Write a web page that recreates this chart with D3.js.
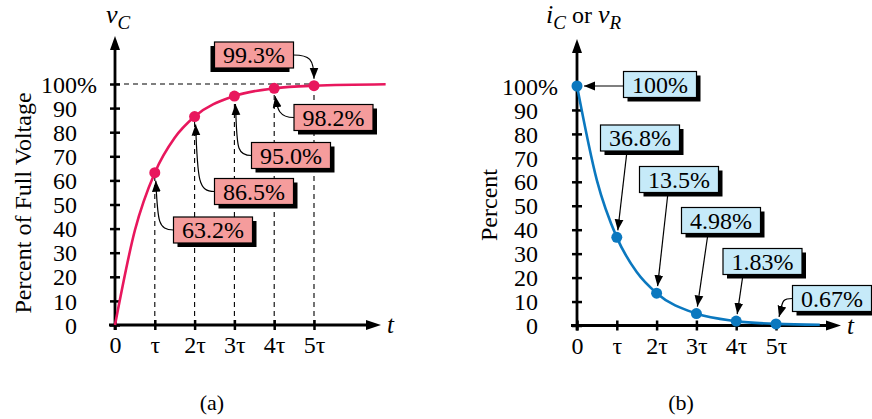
<!DOCTYPE html>
<html><head><meta charset="utf-8">
<script src="https://cdn.jsdelivr.net/npm/d3@7"></script>
<style>body{margin:0;background:#fff}svg{display:block}</style>
</head><body>
<svg id="c" width="872" height="419" font-family="Liberation Serif"></svg>
<script>
// ---- data ----
const tickTau = [0, 1, 2, 3, 4, 5];
const tickTauLabels = ["0", "τ", "2τ", "3τ", "4τ", "5τ"];
const yTicks = [0, 10, 20, 30, 40, 50, 60, 70, 80, 90, 100];
const markT = [1, 2, 3, 4, 5];
const chargeVals = [63.2, 86.5, 95.0, 98.2, 99.3];
const chargeLabels = ["63.2%", "86.5%", "95.0%", "98.2%", "99.3%"];
const chargeCurveT = [0, 0.5, 1, 1.5, 2, 3, 4, 5, 6.8];
const chargeCurveV = [0, 39.3, 63.2, 77.7, 86.5, 95.0, 98.2, 99.3, 99.9];
const dischargeT = [0, 1, 2, 3, 4, 5];
const dischargeVals = [100, 36.8, 13.5, 4.98, 1.83, 0.67];
const dischargeLabels = ["100%", "36.8%", "13.5%", "4.98%", "1.83%", "0.67%"];
const dischargeCurveT = [0, 0.5, 1, 1.5, 2, 3, 4, 5, 6.1];
const dischargeCurveV = [100, 60.6, 36.8, 22.3, 13.5, 4.98, 1.83, 0.67, 0.3];

// ---- layout ----
const FONT = "Liberation Serif";
const pink = "#e8175d", pinkFill = "#f59c9c";
const blue = "#0b78bf", blueFill = "#c6eaf9";
const svg = d3.select("#c");
const defs = svg.append("defs");
defs.append("marker").attr("id","ah").attr("viewBox","0 0 10 10").attr("refX",10).attr("refY",5)
  .attr("markerWidth",11).attr("markerHeight",11).attr("markerUnits","userSpaceOnUse").attr("orient","auto")
  .append("path").attr("d","M0,1 L10,5 L0,9 Z").attr("fill","#000");

function panel(cfg){
  const g = svg.append("g");
  const x = d3.scaleLinear().domain([0,5]).range([cfg.x0, cfg.x0 + 5*39.8]);
  const y = d3.scaleLinear().domain([0,100]).range([cfg.y0, cfg.y100]);
  if (cfg.guides){
    g.append("line").attr("x1",x(0)).attr("x2",x(5)).attr("y1",y(100)).attr("y2",y(100))
      .attr("stroke","#000").attr("stroke-width",1.1).attr("stroke-dasharray","5,4");
    g.selectAll(".vg").data(markT).join("line")
      .attr("x1",d=>x(d)).attr("x2",d=>x(d)).attr("y1",y(0)).attr("y2",(d,i)=>y(cfg.vals[i]))
      .attr("stroke","#000").attr("stroke-width",1.1).attr("stroke-dasharray","5,4");
  }
  const ya = d3.axisLeft(y).tickValues(yTicks).tickSize(4).tickPadding(cfg.ypad);
  const yg = g.append("g").attr("transform",`translate(${x(0)},0)`).call(ya);
  yg.attr("font-family",FONT);
  yg.select(".domain").remove();
  yg.selectAll(".tick line").attr("x1",-5).attr("x2",5).attr("stroke-width",2.5);
  yg.selectAll(".tick text").attr("font-size",24).attr("fill","#000").attr("dy","0.34em");
  yg.selectAll(".tick").filter(d=>d===100).append("text").text("%")
    .attr("x",-cfg.ypad-4).attr("dy","0.34em").attr("text-anchor","start").attr("font-size",24).attr("fill","#000");
  const xa = d3.axisBottom(x).tickValues(tickTau).tickFormat((d,i)=>tickTauLabels[i]).tickSize(4).tickPadding(10);
  const xg = g.append("g").attr("transform",`translate(0,${y(0)})`).call(xa);
  xg.attr("font-family",FONT);
  xg.select(".domain").remove();
  xg.selectAll(".tick line").attr("y1",-5).attr("y2",5).attr("stroke-width",2.5);
  xg.selectAll(".tick text").attr("font-size",24).attr("fill","#000").attr("dy","0.6em");
  g.append("line").attr("x1",x(0)).attr("x2",x(0)).attr("y1",y(0)+5).attr("y2",cfg.yTop+10).attr("stroke","#000").attr("stroke-width",2.8);
  g.append("path").attr("d",`M${x(0)},${cfg.yTop} L${x(0)-5},${cfg.yTop+14} L${x(0)+5},${cfg.yTop+14} Z`).attr("fill","#000");
  g.append("line").attr("x1",x(0)-6).attr("x2",cfg.xEnd-10).attr("y1",y(0)).attr("y2",y(0)).attr("stroke","#000").attr("stroke-width",2.8);
  g.append("path").attr("d",`M${cfg.xEnd},${y(0)} L${cfg.xEnd-15},${y(0)-5} L${cfg.xEnd-15},${y(0)+5} Z`).attr("fill","#000");
  g.append("text").text("t").attr("x",cfg.xEnd+6).attr("y",y(0)+8).attr("font-size",25).attr("font-style","italic");
  const line = d3.line().x(d=>x(d[0])).y(d=>y(d[1])).curve(d3.curveMonotoneX);
  g.append("path").datum(cfg.curveT.map((t,i)=>[t,cfg.curveV[i]])).attr("d",line)
    .attr("fill","none").attr("stroke",cfg.color).attr("stroke-width",2.6);
  g.selectAll(".pt").data(cfg.ptT).join("circle")
    .attr("cx",d=>x(d)).attr("cy",(d,i)=>y(cfg.vals[i])).attr("r",5.5).attr("fill",cfg.color);
  cfg.ann.forEach((a,i)=>{
    const px = x(cfg.ptT[i]), py = y(cfg.vals[i]);
    const ag = g.append("g");
    const t = ag.append("text").text(cfg.labels[i]).attr("x",a.cx).attr("y",a.cy+8)
      .attr("text-anchor","middle").attr("font-size",24).attr("font-family",FONT);
    const w = t.node().getComputedTextLength() + 17, h = 26;
    const bx = a.cx - w/2, by = a.cy - h/2;
    const sdx = a.shadowLeft ? -4 : 4;
    ag.insert("rect","text").attr("x",bx+sdx).attr("y",by+4).attr("width",w).attr("height",h).attr("fill","#000");
    ag.insert("rect","text").attr("x",bx).attr("y",by).attr("width",w).attr("height",h)
      .attr("fill",cfg.fill).attr("stroke","#000").attr("stroke-width",1.2);
    let d;
    if (a.type==="curveUp"){
      const sx=bx, sy=a.cy, ex=px+1, ey=py+8;
      d=`M${sx},${sy} C${sx-16},${sy} ${ex+2},${sy-10} ${ex},${ey}`;
    } else if (a.type==="curveDown"){
      const sx=bx+w, sy=a.cy, ex=px, ey=py-7;
      d=`M${sx},${sy} C${sx+16},${sy} ${ex},${sy+4} ${ex},${ey}`;
    } else if (a.type==="left"){
      d=`M${bx},${py} L${px+7},${py}`;
    } else if (a.type==="down"){
      d=`M${a.sx},${by+h} L${px+1},${py-7}`;
    } else if (a.type==="curveLeftDown"){
      const sx=bx, sy=a.cy, ex=px+3, ey=py-7;
      d=`M${sx},${sy} C${sx-12},${sy} ${ex+4},${sy+4} ${ex},${ey}`;
    }
    ag.insert("path","rect").attr("d",d).attr("fill","none").attr("stroke","#000").attr("stroke-width",1.2).attr("marker-end","url(#ah)");
  });
  return {x,y,g};
}

panel({x0:115, y0:325, y100:84, yTop:36, xEnd:381, ypad:34, guides:true,
  vals:chargeVals, labels:chargeLabels, ptT:markT, curveT:chargeCurveT, curveV:chargeCurveV,
  color:pink, fill:pinkFill,
  ann:[{cx:213,cy:230,type:"curveUp"},{cx:254,cy:191.5,type:"curveUp"},{cx:291,cy:155.5,type:"curveUp"},
       {cx:333.5,cy:117.5,type:"curveUp"},{cx:254,cy:55,type:"curveDown",shadowLeft:true}]});

panel({x0:577, y0:325.5, y100:86, yTop:39, xEnd:841, ypad:35, guides:false,
  vals:dischargeVals, labels:dischargeLabels, ptT:dischargeT, curveT:dischargeCurveT, curveV:dischargeCurveV,
  color:blue, fill:blueFill,
  ann:[{cx:660,cy:84.5,type:"left"},{cx:640,cy:138,type:"down",sx:627},{cx:679,cy:179.5,type:"down",sx:668},
       {cx:721,cy:220.5,type:"down",sx:708},{cx:762.5,cy:261.5,type:"down",sx:743},{cx:832,cy:298.5,type:"curveLeftDown"}]});

function sub(x0,y0,parts){
  const t = svg.append("text").attr("x",x0).attr("y",y0).attr("font-size",26);
  parts.forEach(p=>{
    const s=t.append("tspan").text(p.t);
    if(p.i) s.attr("font-style","italic");
    if(p.sub) s.attr("font-size",19).attr("dy",6); else if(p.back) s.attr("dy",-6).attr("font-size",24);
  });
}
sub(106,23,[{t:"v",i:true},{t:"C",i:true,sub:true}]);
sub(546,23,[{t:"i",i:true},{t:"C",i:true,sub:true},{t:" or ",back:true},{t:"v",i:true},{t:"R",i:true,sub:true}]);
svg.append("text").text("Percent of Full Voltage").attr("transform","translate(31,203) rotate(-90)")
  .attr("text-anchor","middle").attr("font-size",24);
svg.append("text").text("Percent").attr("transform","translate(497,205) rotate(-90)")
  .attr("text-anchor","middle").attr("font-size",24);
svg.append("text").text("(a)").attr("x",212).attr("y",410).attr("text-anchor","middle").attr("font-size",22);
svg.append("text").text("(b)").attr("x",681).attr("y",410).attr("text-anchor","middle").attr("font-size",22);
svg.selectAll("text").attr("font-family",FONT);
</script>
</body></html>
